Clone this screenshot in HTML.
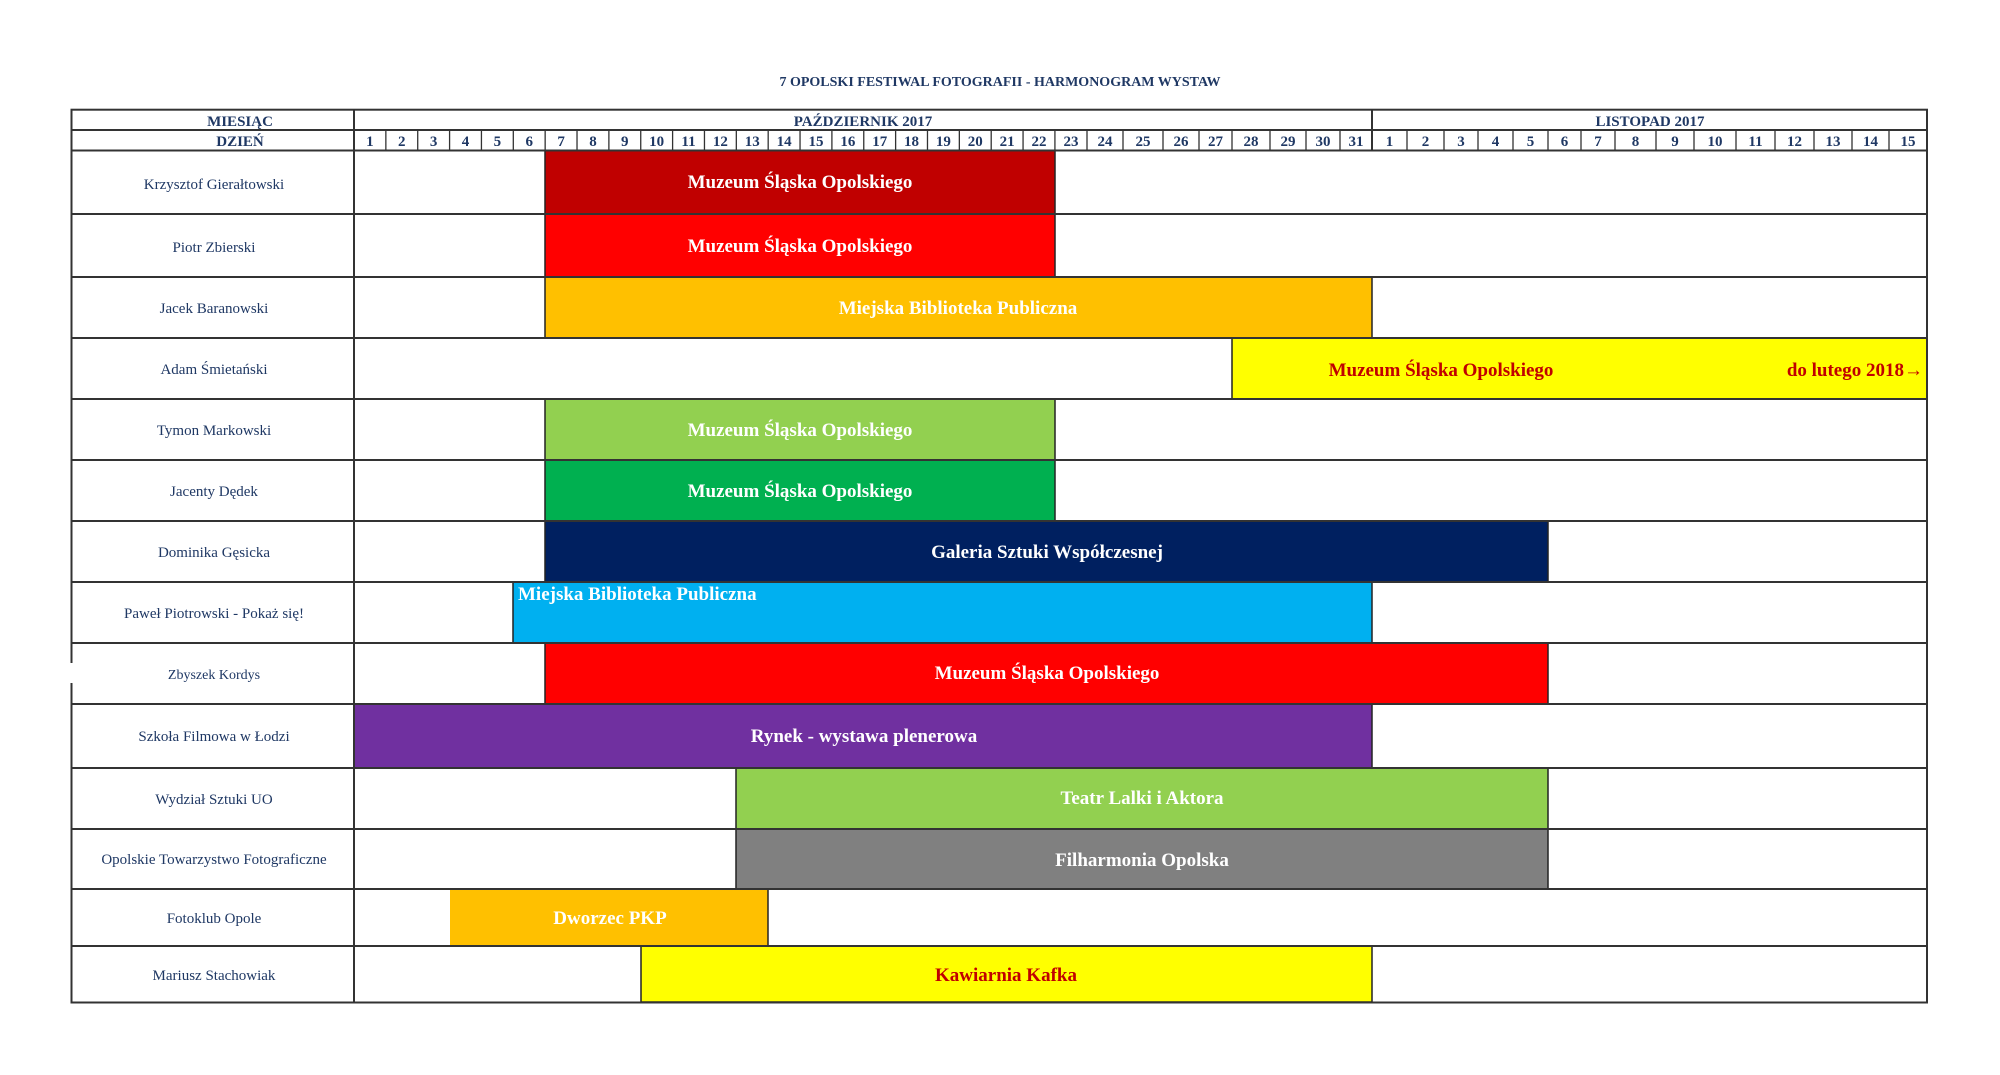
<!DOCTYPE html>
<html><head><meta charset="utf-8"><style>
html,body{margin:0;padding:0;background:#fff;width:2000px;height:1075px;overflow:hidden}
svg text{font-family:"Liberation Serif",serif}
.n{font-size:15px;fill:#1f3864;text-anchor:middle}
.h{font-size:15px;font-weight:bold;fill:#1f3864;text-anchor:middle}
.b{font-size:19px;font-weight:bold;fill:#fff;text-anchor:middle}
</style></head><body>
<svg width="2000" height="1075" xmlns="http://www.w3.org/2000/svg">
<text x="1000" y="86" class="h" style="font-size:14px">7 OPOLSKI FESTIWAL FOTOGRAFII - HARMONOGRAM WYSTAW</text>
<g id="bars" stroke="#222" stroke-width="1.5">
<rect x="545" y="150.5" width="510" height="63.5" fill="#c00000"/>
<rect x="545" y="214" width="510" height="63" fill="#ff0000"/>
<rect x="545" y="277" width="827" height="61" fill="#ffc000"/>
<rect x="1232" y="338" width="695" height="61" fill="#ffff00"/>
<rect x="545" y="399" width="510" height="61" fill="#92d050"/>
<rect x="545" y="460" width="510" height="61" fill="#00b050"/>
<rect x="545" y="521" width="1003" height="61" fill="#002060"/>
<rect x="513" y="582" width="859" height="61" fill="#00b0f0"/>
<rect x="545" y="643" width="1003" height="61" fill="#ff0000"/>
<rect x="354" y="704" width="1018" height="64" fill="#7030a0"/>
<rect x="736" y="768" width="812" height="61" fill="#92d050"/>
<rect x="736" y="829" width="812" height="60" fill="#808080"/>
<rect x="450" y="889" width="318" height="57" fill="#ffc000" stroke="none"/>
<line x1="768" y1="889" x2="768" y2="946"/>
<rect x="641" y="946" width="731" height="56" fill="#ffff00"/>
</g>
<g stroke="#333" stroke-width="2" fill="none">
<rect x="71.5" y="109.7" width="1855.5" height="892.8"/>
<line x1="354" y1="109.7" x2="354" y2="1002.5"/>
<line x1="1372" y1="109.7" x2="1372" y2="150.5"/>
<line x1="71.5" y1="130" x2="1927" y2="130"/>
<path d="M71.5 150.5H1927M71.5 214H1927M71.5 277H1927M71.5 338H1927M71.5 399H1927M71.5 460H1927M71.5 521H1927M71.5 582H1927M71.5 643H1927M71.5 704H1927M71.5 768H1927M71.5 829H1927M71.5 889H1927M71.5 946H1927"/>
</g>
<rect x="68" y="663" width="7" height="20" fill="#fff"/>
<g stroke="#333" stroke-width="1.3" id="daylines"></g>
<g id="days"></g>
<text x="240" y="126" class="h">MIESIĄC</text>
<text x="240" y="146" class="h">DZIEŃ</text>
<text x="863" y="126" class="h">PAŹDZIERNIK 2017</text>
<text x="1650" y="126" class="h">LISTOPAD 2017</text>
<g class="n">
<text x="214" y="189">Krzysztof Gierałtowski</text>
<text x="214" y="252">Piotr Zbierski</text>
<text x="214" y="313">Jacek Baranowski</text>
<text x="214" y="374">Adam Śmietański</text>
<text x="214" y="435">Tymon Markowski</text>
<text x="214" y="496">Jacenty Dędek</text>
<text x="214" y="557">Dominika Gęsicka</text>
<text x="214" y="618">Paweł Piotrowski - Pokaż się!</text>
<text x="214" y="679" style="font-size:14px">Zbyszek Kordys</text>
<text x="214" y="741">Szkoła Filmowa w Łodzi</text>
<text x="214" y="804">Wydział Sztuki UO</text>
<text x="214" y="864">Opolskie Towarzystwo Fotograficzne</text>
<text x="214" y="923">Fotoklub Opole</text>
<text x="214" y="980">Mariusz Stachowiak</text>
</g>
<g class="b">
<text x="800" y="188">Muzeum Śląska Opolskiego</text>
<text x="800" y="252">Muzeum Śląska Opolskiego</text>
<text x="958" y="314">Miejska Biblioteka Publiczna</text>
<text x="1441" y="376" style="fill:#c00000">Muzeum Śląska Opolskiego</text>
<text x="1923" y="376" style="fill:#c00000;text-anchor:end">do lutego 2018→</text>
<text x="800" y="436">Muzeum Śląska Opolskiego</text>
<text x="800" y="497">Muzeum Śląska Opolskiego</text>
<text x="1047" y="558">Galeria Sztuki Współczesnej</text>
<text x="518" y="600" style="text-anchor:start">Miejska Biblioteka Publiczna</text>
<text x="1047" y="679">Muzeum Śląska Opolskiego</text>
<text x="864" y="742">Rynek - wystawa plenerowa</text>
<text x="1142" y="804">Teatr Lalki i Aktora</text>
<text x="1142" y="866">Filharmonia Opolska</text>
<text x="610" y="924">Dworzec PKP</text>
<text x="1006" y="981" style="fill:#c00000">Kawiarnia Kafka</text>
</g>
</svg>
<script>
var b=[];for(var k=0;k<=22;k++)b.push(354+31.86*k);
b=b.concat([1087,1123,1163,1199,1232,1270,1306,1340,1372,1407,1444,1478,1513,1548,1581,1615,1656,1694,1736,1775,1814,1852,1889,1927]);
var L=document.getElementById('daylines'),D=document.getElementById('days'),ns='http://www.w3.org/2000/svg',s='',t='';
for(var i=0;i<b.length-1;i++){var d=i<31?i+1:i-30;
if(i>0)s+='<line x1="'+b[i]+'" y1="130" x2="'+b[i]+'" y2="150.5"/>';
t+='<text class="h" x="'+((b[i]+b[i+1])/2)+'" y="146">'+d+'</text>';}
L.innerHTML=s;D.innerHTML=t;
</script>
</body></html>
